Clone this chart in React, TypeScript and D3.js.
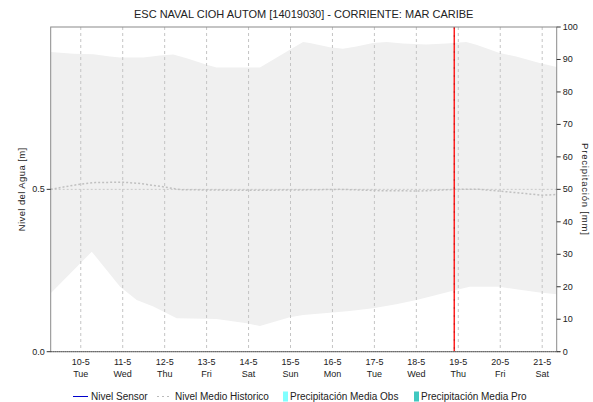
import React from 'react';
import * as d3 from 'd3';

// hours are counted from 10-5 00:00
const title = 'ESC NAVAL CIOH AUTOM [14019030] - CORRIENTE: MAR CARIBE';
const dayLabels = ['10-5', '11-5', '12-5', '13-5', '14-5', '15-5', '16-5', '17-5', '18-5', '19-5', '20-5', '21-5'];
const weekDays = ['Tue', 'Wed', 'Thu', 'Fri', 'Sat', 'Sun', 'Mon', 'Tue', 'Wed', 'Thu', 'Fri', 'Sat'];

const upperHours = [-17.2, -4.2, 7.2, 16.7, 22.5, 35.8, 45.3, 52.9, 60.6, 72, 77.7, 102.5, 110, 119.6, 127.2, 131, 142.5, 150, 157.7, 167.2, 174.9, 184.3, 197.7, 209.1, 220.6, 226.3, 239.6, 249.1, 262.5, 272.3];
const upperLevel = [0.923, 0.918, 0.916, 0.909, 0.906, 0.906, 0.912, 0.915, 0.904, 0.884, 0.875, 0.875, 0.899, 0.930, 0.954, 0.951, 0.938, 0.933, 0.940, 0.951, 0.954, 0.949, 0.946, 0.949, 0.954, 0.945, 0.920, 0.909, 0.889, 0.877];

const lowerHours = [-17.2, 6.3, 22.5, 32, 41.5, 54.9, 77.7, 94.9, 102.5, 119.6, 127.2, 142.5, 153.9, 167.2, 180.5, 192, 203.4, 212.9, 222.5, 239.6, 249.1, 262.5, 272.3];
const lowerLevel = [0.180, 0.308, 0.200, 0.159, 0.139, 0.103, 0.101, 0.088, 0.079, 0.106, 0.113, 0.120, 0.125, 0.134, 0.146, 0.159, 0.175, 0.188, 0.200, 0.200, 0.192, 0.182, 0.177];

const meanHours = [-17.2, -9, -0.4, 8.2, 24.2, 33.9, 47, 56.8, 91, 125.3, 148, 171, 194, 214.7, 228, 245, 264, 272.3];
const meanLevel = [0.500, 0.508, 0.516, 0.521, 0.522, 0.518, 0.508, 0.499, 0.497, 0.498, 0.500, 0.496, 0.495, 0.500, 0.500, 0.492, 0.482, 0.484];

const nowHour = 213.7;
const levelTicks = [0, 0.5];
const rainTicks = [0, 10, 20, 30, 40, 50, 60, 70, 80, 90, 100];

const legendItems = [
  { label: 'Nivel Sensor', kind: 'line', color: '#0000cc' },
  { label: 'Nivel Medio Historico', kind: 'dash', color: '#bbbbbb' },
  { label: 'Precipitación Media Obs', kind: 'box', color: '#80ffff' },
  { label: 'Precipitación Media Pro', kind: 'box', color: '#40c8c0' },
];
const legendX = [73, 157, 283, 414];

const font = '"Liberation Sans", Arial, sans-serif';

const App: React.FC = () => {
  const W = 593, H = 402;
  const m = { left: 50.7, right: 556.7, top: 27, bottom: 351.7 };
  const base = new Date(2022, 4, 10);
  const at = (h: number) => d3.timeMinute.offset(base, Math.round(h * 60));

  const x = d3.scaleTime().domain([at(-17.2), at(272.3)]).range([m.left, m.right]);
  const yL = d3.scaleLinear().domain([0, 1]).range([m.bottom, m.top]);
  const yR = d3.scaleLinear().domain([0, 100]).range([m.bottom, m.top]);

  const upper = upperHours.map((h, i) => ({ t: at(h), v: upperLevel[i] }));
  const lower = lowerHours.map((h, i) => ({ t: at(h), v: lowerLevel[i] }));
  const mean = meanHours.map((h, i) => ({ t: at(h), v: meanLevel[i] }));

  const area = d3.area<{ t: Date; v: number }>().x(d => x(d.t)).y0(m.bottom).y1(d => yL(d.v));
  const line = d3.line<{ t: Date; v: number }>().x(d => x(d.t)).y(d => yL(d.v));

  const days = dayLabels.map((_, i) => at(i * 24));
  const nowX = x(at(nowHour));

  return (
    <svg width={W} height={H} style={{ position: 'absolute', left: 0, top: 0 }} fontFamily={font}>
      <rect width={W} height={H} fill="#fff" />
      <text x={(m.left + m.right) / 2} y={18} textAnchor="middle" fontSize={11} fill="#222">{title}</text>

      <path d={area(upper) || ''} fill="#f0f0f0" />
      <path d={area(lower) || ''} fill="#fff" />

      {days.map((d, i) => (
        <line key={'g' + i} x1={x(d)} x2={x(d)} y1={m.top} y2={m.bottom} stroke="#c4c4c4" strokeDasharray="3,3" />
      ))}
      <line x1={m.left} x2={m.right} y1={yL(0.5)} y2={yL(0.5)} stroke="#c8c8c8" strokeDasharray="2,2" />

      <path d={line(mean) || ''} fill="none" stroke="#c0c0c0" strokeWidth={1.5} strokeDasharray="2,2" />

      <line x1={nowX} x2={nowX} y1={m.top} y2={m.bottom} stroke="#ff2020" strokeWidth={1.5} />
      <line x1={nowX} x2={nowX} y1={m.top} y2={m.bottom} stroke="#a01010" strokeWidth={0.6} strokeDasharray="2,6" />

      <rect x={m.left} y={m.top} width={m.right - m.left} height={m.bottom - m.top} fill="none" stroke="#8a8a8a" />
      <line x1={m.left} x2={m.right + 4} y1={m.bottom} y2={m.bottom} stroke="#444" strokeDasharray="1,1" />

      {levelTicks.map(t => (
        <g key={'l' + t}>
          <line x1={m.left - 4} x2={m.left} y1={yL(t)} y2={yL(t)} stroke="#333" />
          <text x={m.left - 6} y={yL(t)} dy="0.33em" textAnchor="end" fontSize={9} fill="#222">{t.toFixed(1)}</text>
        </g>
      ))}
      {rainTicks.map(t => (
        <g key={'r' + t}>
          <line x1={m.right} x2={m.right + 4} y1={yR(t)} y2={yR(t)} stroke="#333" />
          <text x={m.right + 6} y={yR(t)} dy="0.33em" fontSize={9} fill="#222">{t}</text>
        </g>
      ))}
      {days.map((d, i) => (
        <g key={'d' + i}>
          <text x={x(d)} y={365} textAnchor="middle" fontSize={9} fill="#222">{dayLabels[i]}</text>
          <text x={x(d)} y={376.5} textAnchor="middle" fontSize={9} fill="#222">{weekDays[i]}</text>
        </g>
      ))}

      <text transform={`translate(25,${(m.top + m.bottom) / 2}) rotate(-90)`} textAnchor="middle" fontSize={9.5} fill="#222" letterSpacing={0.4}>Nivel del Agua [m]</text>
      <text transform={`translate(582,${(m.top + m.bottom) / 2}) rotate(90)`} textAnchor="middle" fontSize={9.5} fill="#222" letterSpacing={0.8}>Precipitación [mm]</text>

      {legendItems.map((it, i) => {
        const lx = legendX[i];
        const cy = 396.5;
        return (
          <g key={'lg' + i}>
            {it.kind === 'line' && <line x1={lx} x2={lx + 15} y1={cy} y2={cy} stroke={it.color} />}
            {it.kind === 'dash' && <line x1={lx} x2={lx + 15} y1={cy} y2={cy} stroke={it.color} strokeDasharray="2,3" />}
            {it.kind === 'box' && <rect x={lx} y={cy - 5} width={5} height={10} fill={it.color} />}
            <text x={lx + (it.kind === 'box' ? 7 : 18)} y={cy} dy="0.35em" fontSize={10} fill="#222">{it.label}</text>
          </g>
        );
      })}
    </svg>
  );
};

export default App;
